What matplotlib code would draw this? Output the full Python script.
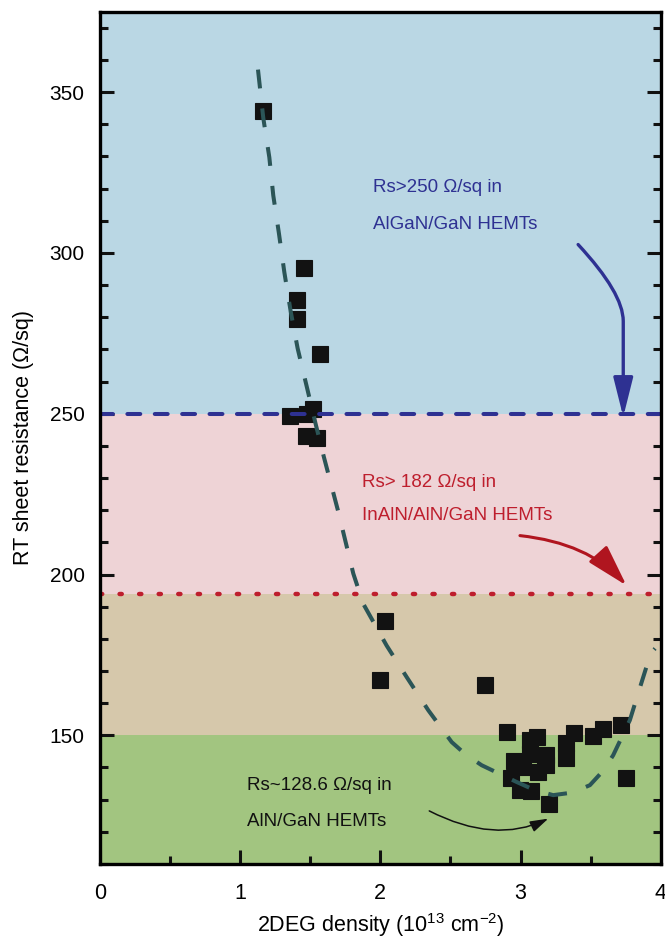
import matplotlib
matplotlib.use("Agg")
import matplotlib.pyplot as plt
from matplotlib.patches import FancyArrowPatch
from matplotlib.path import Path
from matplotlib.ticker import MultipleLocator

plt.rcParams["mathtext.default"] = "regular"
plt.rcParams["font.family"] = ["Liberation Sans", "DejaVu Sans"]

# measured samples: 2DEG density (1e13 cm^-2) and RT sheet resistance (ohm/sq)
density = [1.160, 1.453, 1.407, 1.403, 1.569, 1.355, 1.474, 1.519, 1.469, 1.548,
           2.031, 1.997, 2.748, 2.901, 3.205, 3.752, 3.714, 3.586, 3.514, 3.381,
           3.324, 3.324, 3.070, 3.121, 3.185, 3.185, 2.953, 2.930, 2.999, 3.075,
           3.126, 3.067, 3.019, 3.174]
rsheet = [344.2, 295.2, 285.3, 279.4, 268.5, 249.4, 250.0, 251.4, 243.2, 242.3,
          185.5, 167.2, 165.8, 150.9, 128.6, 136.6, 153.1, 152.1, 149.7, 150.6,
          147.6, 143.0, 148.6, 149.6, 143.8, 140.7, 142.0, 136.8, 132.9, 132.6,
          138.6, 144.3, 140.1, 141.2]

# guide-to-the-eye trend through the data
trend_density = [1.127, 1.165, 1.208, 1.236, 1.277, 1.315, 1.360, 1.410, 1.474,
                 1.539, 1.598, 1.700, 1.807, 1.878, 2.045, 2.188, 2.342, 2.509,
                 2.610, 2.723, 2.972, 3.100, 3.233, 3.370, 3.495, 3.590, 3.661,
                 3.780, 3.864, 3.928, 3.960]
trend_rsheet = [357.0, 341.9, 329.7, 317.9, 305.9, 294.0, 281.9, 270.3, 258.6,
                246.7, 236.4, 219.5, 200.3, 190.9, 177.9, 168.1, 157.8, 147.9,
                144.0, 140.7, 135.5, 133.0, 131.4, 132.2, 134.5, 139.0, 143.8,
                154.7, 166.5, 175.4, 177.0]

# heterostructure regimes (ohm/sq)
rs_algan = 250
rs_inaln = 194
rs_aln = 150
rs_lo, rs_hi = 110, 375
x_lo, x_hi = 0, 4

band_colors = ["#a2c580", "#d6c8ab", "#eed3d6", "#bad7e4"]
navy = "#2e3192"
crimson = "#be1e2d"
teal = "#2b5557"

fig = plt.figure(figsize=(6.65, 9.43), dpi=100)
ax = fig.add_axes([0.1504, 0.0838, 0.8431, 0.9038])

edges = [rs_lo, rs_aln, rs_inaln, rs_algan, rs_hi]
for lo, hi, c in zip(edges[:-1], edges[1:], band_colors):
    ax.axhspan(lo, hi, color=c, lw=0, zorder=0)

ax.plot(density, rsheet, ls="none", marker="s", ms=11.2, mfc="#121212",
        mec="#121212", mew=0.8, zorder=3)

ax.plot(trend_density, trend_rsheet, color=teal, lw=2.9, dashes=(4.7, 5.0),
        dash_capstyle="butt", zorder=4)
ax.axhline(rs_algan, color=navy, lw=2.9, dashes=(3.2, 3.6),
           dash_capstyle="round", zorder=4)
ax.axhline(rs_inaln, color=crimson, lw=3.2, dashes=(0.5, 3.9),
           dash_capstyle="round", zorder=4)


def curved_arrow(p0, ctrl, p1, tail=None, color="k", lw=2.0, hl=20, hw=6):
    verts = [p0, ctrl, p1]
    codes = [Path.MOVETO, Path.CURVE3, Path.CURVE3]
    if tail is not None:
        verts.append(tail)
        codes.append(Path.LINETO)
    arr = FancyArrowPatch(path=Path(verts, codes),
                          arrowstyle=f"-|>,head_length={hl},head_width={hw}",
                          mutation_scale=1, color=color, lw=lw, zorder=5)
    ax.add_patch(arr)


curved_arrow((3.411, 302.6), (3.733, 287.5), (3.733, 278.8), tail=(3.733, 249.0),
             color=navy, lw=2.4, hl=24, hw=6.0)
curved_arrow((2.996, 212.1), (3.482, 209.8), (3.756, 196.6),
             color="#b0151f", lw=2.2, hl=26, hw=7.5)
curved_arrow((2.349, 126.5), (2.815, 116.1), (3.198, 124.1),
             color="#111111", lw=1.1, hl=11, hw=3.4)

note = dict(fontsize=13.5, ha="left", va="center", zorder=6)
ax.text(1.949, 320.2, "Rs>250 \u03a9/sq in", color=navy, **note)
ax.text(1.949, 308.8, "AlGaN/GaN HEMTs", color=navy, **note)
ax.text(1.867, 228.6, "Rs> 182 \u03a9/sq in", color=crimson, **note)
ax.text(1.867, 218.3, "InAlN/AlN/GaN HEMTs", color=crimson, **note)
ax.text(1.049, 134.5, "Rs~128.6 \u03a9/sq in", color="#111111", **note)
ax.text(1.049, 123.1, "AlN/GaN HEMTs", color="#111111", **note)

ax.set_xlim(x_lo, x_hi)
ax.set_ylim(rs_lo, rs_hi)
ax.xaxis.set_major_locator(MultipleLocator(1))
ax.xaxis.set_minor_locator(MultipleLocator(0.5))
ax.yaxis.set_major_locator(MultipleLocator(50))
ax.yaxis.set_minor_locator(MultipleLocator(10))
ax.yaxis.set_major_formatter(lambda v, pos: f"{v:.0f}")

for s in ax.spines.values():
    s.set_linewidth(2.4)
    s.set_zorder(7)
ax.tick_params(which="both", direction="in", width=2.2, right=True, top=False,
               color="#111111")
ax.tick_params(which="major", length=10)
ax.tick_params(which="minor", length=6)
ax.tick_params(axis="y", labelsize=15, pad=11)
ax.tick_params(axis="x", labelsize=15.5, pad=14)

ax.set_xlabel("2DEG density (10$^{13}$ cm$^{-2}$)", fontsize=15.5, labelpad=5)
ax.set_ylabel("RT sheet resistance (\u03a9/sq)", fontsize=15.5, labelpad=11)

fig.savefig("out.png", dpi=100)
